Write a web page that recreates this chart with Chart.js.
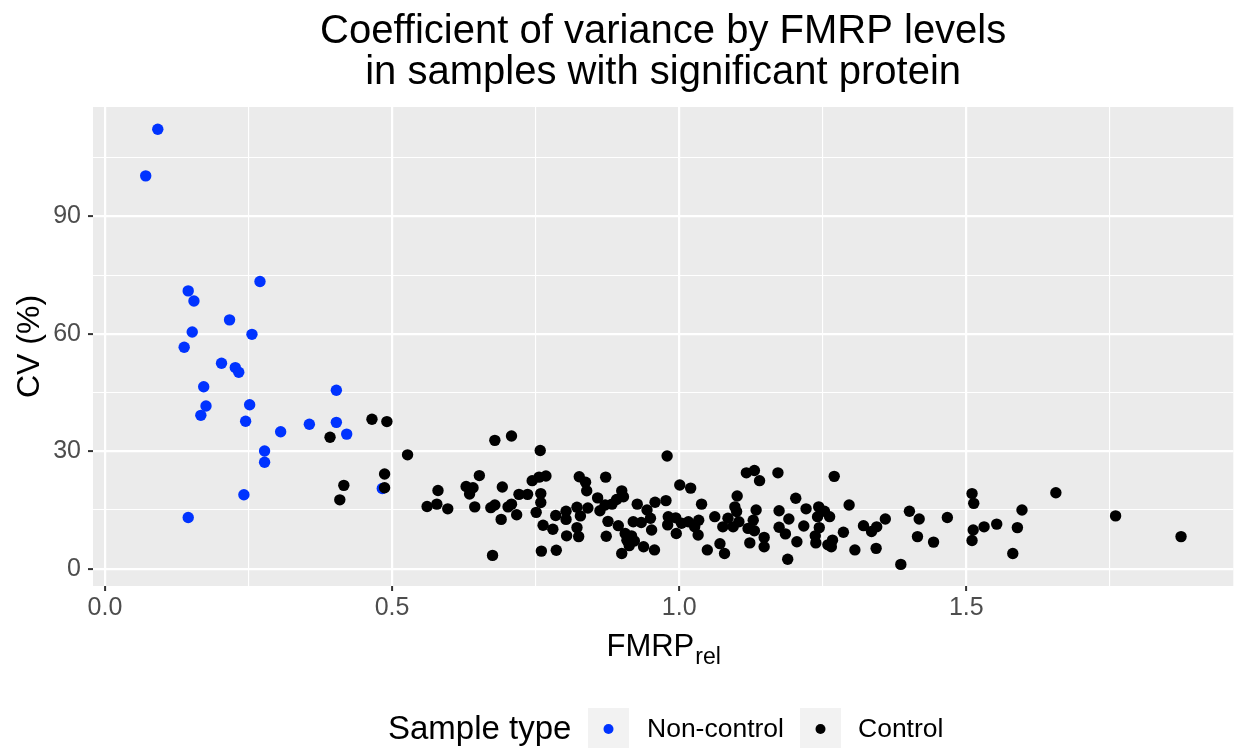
<!DOCTYPE html>
<html>
<head>
<meta charset="utf-8">
<script src="https://cdn.jsdelivr.net/npm/chart.js@4.4.1/dist/chart.umd.min.js"></script>
<style>
  html, body { margin: 0; padding: 0; background: #fff; }
  #wrap { width: 1239px; height: 748px; }
</style>
</head>
<body>
<div id="wrap"><canvas id="cvChart" width="1239" height="748"></canvas></div>
<script>
// --- DATA ---
const chartTitle = ['Coefficient of variance by FMRP levels', 'in samples with significant protein'];
const seriesNames = ['Non-control', 'Control'];
const seriesColors = ['#0033FF', '#000000'];

const nonControlX = [0.092, 0.071, 0.270, 0.145, 0.155, 0.217, 0.152, 0.256, 0.138, 0.203, 0.227, 0.233,
    0.172, 0.403, 0.176, 0.252, 0.167, 0.245, 0.356, 0.403, 0.306, 0.421, 0.278, 0.278, 0.242, 0.145, 0.483];
const nonControlY = [112.3, 100.4, 73.4, 71.0, 68.4, 63.6, 60.5, 59.9, 56.6, 52.5, 51.4, 50.2,
    46.5, 45.6, 41.6, 41.9, 39.2, 37.7, 36.9, 37.4, 35.0, 34.4, 30.1, 27.2, 18.9, 13.1, 20.5];

const controlX = [0.465, 0.491, 0.392, 0.527, 0.487, 0.487, 0.416, 0.409, 0.580, 0.561, 0.578, 0.597,
    0.679, 0.708, 0.758, 0.979, 0.652, 0.629, 0.641, 0.635, 0.692, 0.644, 0.672, 0.679, 0.690, 0.702,
    0.708, 0.717, 0.721, 0.736, 0.744, 0.756, 0.768, 0.759, 0.759, 0.751, 0.763, 0.780, 0.760, 0.786,
    0.675, 0.785, 0.803, 0.803, 0.804, 0.822, 0.841, 0.826, 0.837, 0.839, 0.828, 0.822, 0.825, 0.858,
    0.862, 0.872, 0.876, 0.873, 0.871, 0.883, 0.891, 0.900, 0.903, 0.894, 0.906, 0.909, 0.913, 0.917,
    0.922, 0.900, 0.927, 0.920, 0.934, 0.950, 0.952, 0.944, 0.958, 0.938, 0.957, 0.977, 0.981, 0.980,
    0.994, 0.995, 1.001, 1.020, 1.004, 1.016, 1.027, 1.033, 1.039, 1.034, 1.049, 1.071, 1.079, 1.062,
    1.076, 1.097, 1.101, 1.117, 1.131, 1.140, 1.172, 1.270, 1.100, 1.085, 1.094, 1.104, 1.134, 1.129,
    1.120, 1.131, 1.123, 1.148, 1.148, 1.174, 1.191, 1.174, 1.185, 1.205, 1.189, 1.203, 1.221, 1.217,
    1.243, 1.253, 1.262, 1.241, 1.244, 1.237, 1.238, 1.259, 1.267, 1.265, 1.296, 1.286, 1.306, 1.321,
    1.335, 1.344, 1.359, 1.343, 1.386, 1.401, 1.418, 1.415, 1.443, 1.467, 1.510, 1.513, 1.512, 1.510,
    1.531, 1.553, 1.656, 1.597, 1.589, 1.581, 1.760, 1.874];
const controlY = [38.2, 37.6, 33.6, 29.1, 24.2, 20.7, 21.3, 17.6, 20.0, 15.9, 16.5, 15.3,
    32.8, 33.9, 30.2, 28.8, 23.8, 21.0, 20.7, 19.1, 20.9, 15.8, 15.6, 16.3, 12.6, 15.8,
    16.5, 13.8, 19.0, 19.0, 22.5, 23.4, 23.7, 19.2, 16.9, 14.4, 11.1, 10.1, 4.5, 4.7,
    3.4, 13.6, 14.7, 12.6, 8.4, 15.7, 15.5, 23.5, 22.1, 19.9, 13.5, 10.5, 8.2, 18.1,
    14.8, 23.4, 12.1, 8.3, 16.3, 16.5, 17.7, 19.9, 18.4, 11.0, 9.0, 7.3, 5.9, 8.4,
    7.1, 3.9, 16.5, 12.0, 11.8, 12.9, 9.9, 15.0, 17.0, 5.6, 4.8, 17.4, 13.3, 11.2,
    13.0, 9.0, 21.4, 20.6, 11.6, 12.0, 10.7, 8.6, 16.5, 12.4, 4.8, 6.4, 3.9, 13.3,
    10.7, 15.8, 18.6, 24.5, 25.1, 22.5, 24.5, 23.6, 14.6, 12.9, 10.7, 12.0, 15.0, 12.4,
    10.3, 9.7, 6.6, 8.0, 5.6, 14.8, 12.7, 10.6, 8.9, 6.9, 2.4, 18.0, 15.3, 10.9,
    15.8, 14.7, 13.3, 13.3, 10.5, 8.4, 6.6, 6.1, 7.3, 5.6, 16.3, 9.3, 4.8, 11.0,
    9.5, 10.7, 12.7, 5.2, 1.1, 14.7, 12.7, 8.2, 6.8, 13.1, 19.2, 16.7, 9.9, 7.2,
    10.7, 11.4, 19.4, 15.0, 10.5, 3.9, 13.5, 8.2];

// axis ticks (majors labelled, minors only as thin grid lines)
const xTicks = [0, 0.25, 0.5, 0.75, 1.0, 1.25, 1.5, 1.75];
const xMajor = [0, 0.5, 1.0, 1.5];
const yTicks = [0, 15, 30, 45, 60, 75, 90, 105];
const yMajor = [0, 30, 60, 90];

const FONT = '"Liberation Sans", Arial, Helvetica, sans-serif';

const toPoints = (xs, ys) => xs.map((x, i) => ({ x: x, y: ys[i] }));
const isMajor = (list, v) => list.some(m => Math.abs(m - v) < 1e-9);

// grey panel behind the grid
const panelBg = {
    id: 'panelBg',
    beforeDraw(chart) {
        const { ctx, chartArea: a } = chart;
        ctx.save();
        ctx.fillStyle = '#fff';
        ctx.fillRect(0, 0, chart.width, chart.height);
        ctx.fillStyle = '#EBEBEB';
        ctx.fillRect(a.left, a.top, a.right - a.left, a.bottom - a.top);
        ctx.restore();
    }
};

// title centred over the panel, x title with subscript, legend at the bottom
const extras = {
    id: 'extras',
    afterDraw(chart) {
        const { ctx, chartArea: a } = chart;
        const cx = (a.left + a.right) / 2;
        ctx.save();
        ctx.fillStyle = '#000';

        ctx.textAlign = 'center';
        ctx.textBaseline = 'middle';
        ctx.font = '40px ' + FONT;
        ctx.fillText(chartTitle[0], cx, 32);
        ctx.fillText(chartTitle[1], cx, 73);

        ctx.textAlign = 'left';
        ctx.textBaseline = 'alphabetic';
        ctx.font = '31px ' + FONT;
        const main = 'FMRP', sub = 'rel';
        const wMain = ctx.measureText(main).width;
        ctx.font = '23px ' + FONT;
        const wSub = ctx.measureText(sub).width;
        const x0 = cx - (wMain + wSub) / 2;
        ctx.font = '31px ' + FONT;
        ctx.fillText(main, x0, 656);
        ctx.font = '23px ' + FONT;
        ctx.fillText(sub, x0 + wMain + 1, 664);

        // legend
        const ly = 729;
        ctx.textBaseline = 'middle';
        ctx.font = '33px ' + FONT;
        ctx.fillText('Sample type', 388, ly + 1);
        const keys = [588, 800];
        const labelsX = [647, 858];
        ctx.font = '26.5px ' + FONT;
        seriesNames.forEach((name, i) => {
            ctx.fillStyle = '#F2F2F2';
            ctx.fillRect(keys[i], ly - 21, 41, 42);
            ctx.fillStyle = seriesColors[i];
            ctx.beginPath();
            ctx.arc(keys[i] + 20.5, ly, 5, 0, Math.PI * 2);
            ctx.fill();
            ctx.fillStyle = '#000';
            ctx.fillText(name, labelsX[i], ly + 1);
        });
        ctx.restore();
    }
};

new Chart(document.getElementById('cvChart'), {
    type: 'scatter',
    data: {
        datasets: [
            {
                label: seriesNames[0],
                data: toPoints(nonControlX, nonControlY),
                backgroundColor: seriesColors[0],
                borderWidth: 0,
                pointRadius: 5.7,
                order: 1
            },
            {
                label: seriesNames[1],
                data: toPoints(controlX, controlY),
                backgroundColor: seriesColors[1],
                borderWidth: 0,
                pointRadius: 5.7,
                order: 0
            }
        ]
    },
    options: {
        responsive: false,
        animation: false,
        events: [],
        layout: { padding: { left: 0, right: 2, top: 107, bottom: 0 } },
        plugins: {
            legend: { display: false },
            tooltip: { enabled: false },
            title: { display: false }
        },
        scales: {
            x: {
                type: 'linear',
                min: -0.0208,
                max: 1.965,
                afterBuildTicks: s => { s.ticks = xTicks.map(v => ({ value: v })); },
                afterFit: s => { s.height = 162; },
                border: { display: false },
                grid: {
                    color: '#fff',
                    lineWidth: c => isMajor(xMajor, c.tick.value) ? 2.2 : 1.1,
                    tickLength: 5,
                    tickColor: c => isMajor(xMajor, c.tick.value) ? '#333333' : 'rgba(0,0,0,0)',
                    tickWidth: 2
                },
                ticks: {
                    color: '#4D4D4D',
                    font: { family: FONT, size: 25 },
                    padding: 2,
                    maxRotation: 0,
                    autoSkip: false,
                    callback: v => isMajor(xMajor, v) ? v.toFixed(1) : ''
                }
            },
            y: {
                type: 'linear',
                min: -4.42,
                max: 118.0,
                afterBuildTicks: s => { s.ticks = yTicks.map(v => ({ value: v })); },
                afterFit: s => { s.width = 93; },
                border: { display: false },
                grid: {
                    color: '#fff',
                    lineWidth: c => isMajor(yMajor, c.tick.value) ? 2.2 : 1.1,
                    tickLength: 5,
                    tickColor: c => isMajor(yMajor, c.tick.value) ? '#333333' : 'rgba(0,0,0,0)',
                    tickWidth: 2
                },
                ticks: {
                    color: '#4D4D4D',
                    font: { family: FONT, size: 25 },
                    padding: 7,
                    autoSkip: false,
                    callback: v => isMajor(yMajor, v) ? String(v) : ''
                },
                title: {
                    display: true,
                    text: 'CV (%)',
                    color: '#000',
                    font: { family: FONT, size: 32, lineHeight: 1.2 },
                    padding: { top: 11, bottom: 0 }
                }
            }
        }
    },
    plugins: [panelBg, extras]
});
</script>
</body>
</html>
